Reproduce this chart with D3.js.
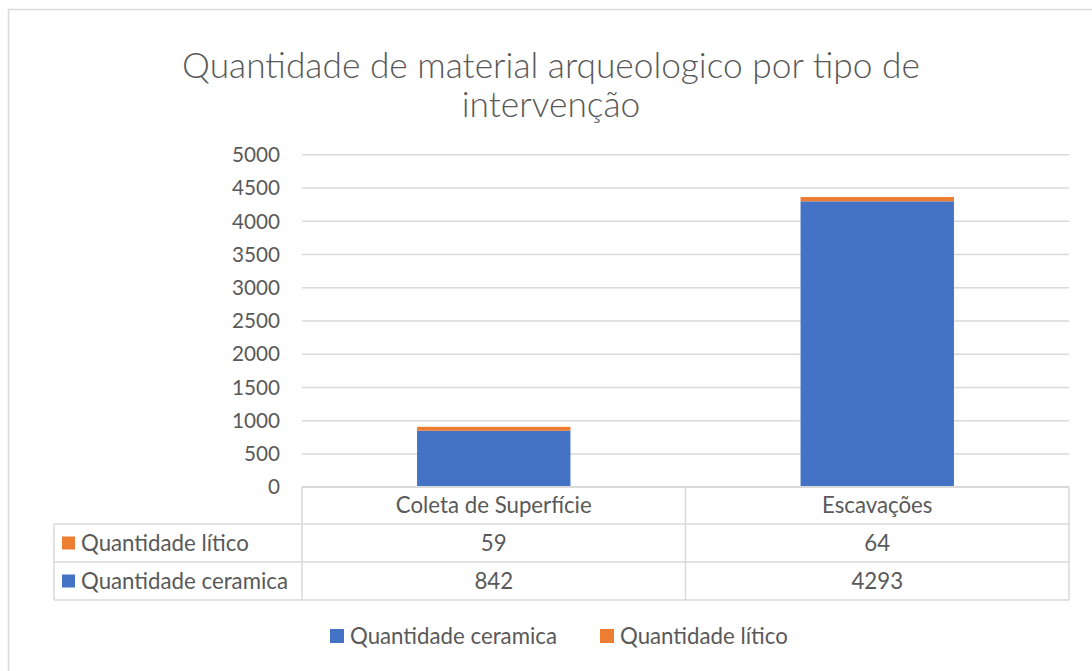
<!DOCTYPE html>
<html><head><meta charset="utf-8">
<script src="https://cdn.jsdelivr.net/npm/d3@7"></script>
<style>html,body{margin:0;padding:0;background:#fff}svg{display:block}</style>
</head><body>
<script>
const categories = ["Coleta de Superfície", "Escavações"];
const seriesNames = ["Quantidade ceramica", "Quantidade lítico"];
const ceramica = [842, 4293];
const litico = [59, 64];
const yTicks = [0, 500, 1000, 1500, 2000, 2500, 3000, 3500, 4000, 4500, 5000];
const colors = ["#4472C4", "#ED7D31"];
const titleLines = ["Quantidade de material arqueologico por tipo de", "intervenção"];

const W = 1092, H = 671;
const FONT = "Lato, 'Open Sans', sans-serif";
const TXT = "#595959";
const GRID = "#d9d9d9";

const svg = d3.select("body").append("svg").attr("width", W).attr("height", H);
svg.append("rect").attr("width", W).attr("height", H).attr("fill", "#fff");
svg.append("rect").attr("x", 8.5).attr("y", 9.5).attr("width", 1200).attr("height", 800)
  .attr("fill", "none").attr("stroke", GRID).attr("stroke-width", 1.5);

function fitSize(str, target, weight) {
  const t = svg.append("text").attr("font-family", FONT).attr("font-weight", weight || 400)
    .attr("font-size", 100).text(str);
  const w = t.node().getComputedTextLength();
  t.remove();
  return 100 * target / w;
}
const titleSize = fitSize(titleLines[0], 738, 300);
const bodySize = fitSize("Quantidade ceramica", 207);
const tickSize = fitSize("5000", 48);

const plot = {left: 302, right: 1069, top: 154.3, bottom: 486.7};
const x = d3.scaleBand().domain(categories).range([plot.left, plot.right]).paddingInner(0).paddingOuter(0);
const y = d3.scaleLinear().domain([0, 5000]).range([plot.bottom, plot.top]);

// title
svg.append("g").selectAll("text").data(titleLines).join("text")
  .attr("x", 551).attr("y", (d, i) => 78 + i * 39)
  .attr("text-anchor", "middle").attr("font-family", FONT).attr("font-weight", 300)
  .attr("font-size", titleSize).attr("fill", TXT).text(d => d);

// y axis
const yAxis = d3.axisLeft(y).tickValues(yTicks).tickFormat(d3.format("d"))
  .tickSize(-(plot.right - plot.left)).tickPadding(22);
const gy = svg.append("g").attr("transform", `translate(${plot.left},0)`).call(yAxis);
gy.select(".domain").remove();
gy.selectAll(".tick line").attr("stroke", GRID).attr("stroke-width", 1.5);
gy.selectAll(".tick text").attr("font-family", FONT).attr("font-size", tickSize).attr("fill", TXT)
  .attr("dy", "0.35em");

// stacked bars
const rows = categories.map((c, i) => ({cat: c, "Quantidade ceramica": ceramica[i], "Quantidade lítico": litico[i]}));
const stack = d3.stack().keys(seriesNames)(rows);
const bw = x.bandwidth() * 0.4;
svg.append("g").selectAll("g").data(stack).join("g").attr("fill", (d, i) => colors[i])
  .selectAll("rect").data(d => d).join("rect")
  .attr("x", d => x(d.data.cat) + x.bandwidth() / 2 - bw / 2)
  .attr("width", bw)
  .attr("y", d => y(d[1]))
  .attr("height", d => y(d[0]) - y(d[1]));

// data table
const rowY = [486.7, 524, 562, 600];
const tbl = svg.append("g").attr("stroke", GRID).attr("stroke-width", 1.5).attr("fill", "none");
tbl.append("line").attr("x1", plot.left).attr("x2", plot.right).attr("y1", rowY[0]).attr("y2", rowY[0]);
[1, 2, 3].forEach(k => tbl.append("line").attr("x1", 54).attr("x2", plot.right).attr("y1", rowY[k]).attr("y2", rowY[k]));
tbl.append("line").attr("x1", 54).attr("x2", 54).attr("y1", rowY[1]).attr("y2", rowY[3]);
tbl.append("line").attr("x1", plot.left).attr("x2", plot.left).attr("y1", rowY[0]).attr("y2", rowY[3]);
categories.forEach(c => {
  const xe = x(c) + x.bandwidth();
  tbl.append("line").attr("x1", xe).attr("x2", xe).attr("y1", rowY[0]).attr("y2", rowY[3]);
});
svg.append("g").selectAll("text").data(categories).join("text")
  .attr("x", d => x(d) + x.bandwidth() / 2).attr("y", (rowY[0] + rowY[1]) / 2)
  .attr("dy", "0.35em").attr("text-anchor", "middle")
  .attr("font-family", FONT).attr("font-size", bodySize).attr("fill", TXT).text(d => d);
const tableRows = [{name: seriesNames[1], vals: litico, color: colors[1]}, {name: seriesNames[0], vals: ceramica, color: colors[0]}];
tableRows.forEach((r, k) => {
  const cy = (rowY[k + 1] + rowY[k + 2]) / 2;
  svg.append("rect").attr("x", 62).attr("y", cy - 6.5).attr("width", 13).attr("height", 13).attr("fill", r.color);
  svg.append("text").attr("x", 81).attr("y", cy).attr("dy", "0.35em")
    .attr("font-family", FONT).attr("font-size", bodySize).attr("fill", TXT).text(r.name);
  svg.append("g").selectAll("text").data(categories).join("text")
    .attr("x", d => x(d) + x.bandwidth() / 2).attr("y", cy).attr("dy", "0.35em")
    .attr("text-anchor", "middle").attr("font-family", FONT).attr("font-size", bodySize).attr("fill", TXT)
    .text((d, i) => r.vals[i]);
});

// legend
const legX = [330, 600];
const lg = svg.append("g");
seriesNames.forEach((s, i) => {
  lg.append("rect").attr("x", legX[i]).attr("y", 636 - 7).attr("width", 14).attr("height", 14).attr("fill", colors[i]);
  lg.append("text").attr("x", legX[i] + 20).attr("y", 636).attr("dy", "0.35em")
    .attr("font-family", FONT).attr("font-size", bodySize).attr("fill", TXT).text(s);
});
</script>
</body></html>
